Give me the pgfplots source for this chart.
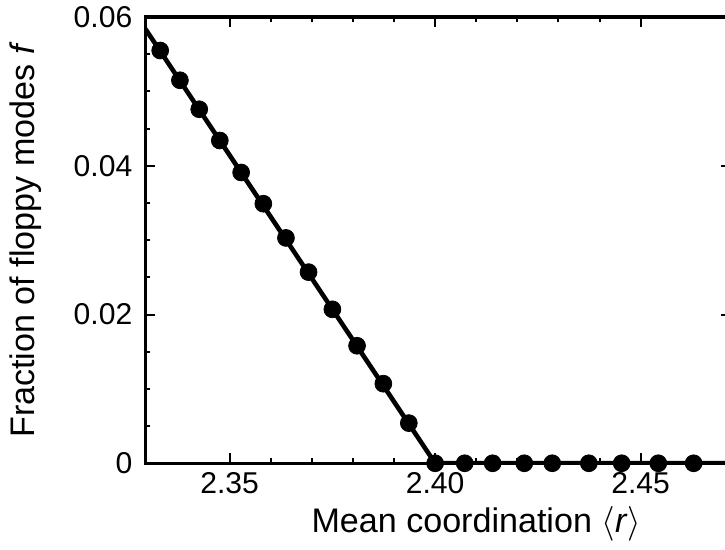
\documentclass[border=0pt]{standalone}
\usepackage{pgfplots}
\pgfplotsset{compat=1.18}
\usepackage{fontspec}
\setmainfont{Liberation Sans}

% floppy mode fraction vs mean coordination
\pgfplotstableread{
r        f
2.3331   0.0555
2.3379   0.0515
2.3426   0.0476
2.3476   0.0434
2.3528   0.0391
2.3582   0.0349
2.3637   0.0303
2.3692   0.0257
2.3750   0.0207
2.3810   0.0158
2.3874   0.0107
2.3936   0.0054
2.4000   0.0000
2.4072   0.0000
2.4140   0.0000
2.4217   0.0000
2.4285   0.0000
2.4374   0.0000
2.4454   0.0000
2.4543   0.0000
2.4629   0.0000
}\floppy

\pgfplotstableread{
r        f
2.3295   0.0584
2.4000   0.0000
2.4720   0.0000
}\fitline

\begin{document}
\begin{tikzpicture}
\begin{axis}[
    scale only axis,
    width=292pt,
    height=222.5pt,
    xmin=2.3295, xmax=2.4720,
    ymin=0, ymax=0.06,
    scaled y ticks=false,
    scaled x ticks=false,
    xtick={2.35,2.40,2.45},
    xticklabels={2.35,2.40,2.45},
    ytick={0,0.02,0.04,0.06},
    yticklabels={0,0.02,0.04,0.06},
    minor x tick num=4,
    minor y tick num=3,
    tick align=inside,
    major tick length=5pt,
    minor tick length=2.5pt,
    every tick/.style={black, line width=1pt},
    axis line style={line width=1.6pt},
    tick label style={font=\fontsize{15}{18}\selectfont},
    xticklabel style={yshift=-1pt},
    yticklabel style={xshift=-3pt},
    label style={font=\fontsize{17}{20}\selectfont},
    xlabel={Mean coordination $\langle$\textit{r}$\rangle$},
    ylabel={Fraction of floppy modes \textit{f}},
    xlabel style={at={(axis description cs:0.565,0)}, anchor=center, yshift=-30pt},
    ylabel style={at={(axis description cs:-0.205,0.5)}, anchor=center},
    clip=true,
]
\addplot[black, line width=2.3pt] table[x=r, y=f] {\fitline};
\addplot[only marks, mark=*, mark size=4.2pt, black] table[x=r, y=f] {\floppy};
\coordinate (sw) at (rel axis cs:0,0);
\coordinate (ne) at (rel axis cs:1,1);
\end{axis}
\pgfresetboundingbox
\path[use as bounding box] ([xshift=-72.5pt,yshift=-43pt]sw) rectangle ([xshift=-3pt,yshift=8.5pt]ne);
\end{tikzpicture}
\end{document}
